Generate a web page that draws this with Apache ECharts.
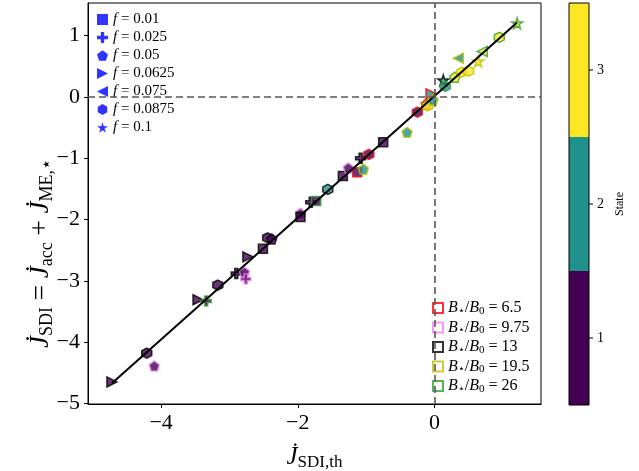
<!DOCTYPE html>
<html>
<head>
<meta charset="utf-8">
<script src="https://cdn.jsdelivr.net/npm/echarts@6/dist/echarts.min.js"></script>
<style>html,body{margin:0;padding:0;background:#fff}#c{width:639px;height:471px}</style>
</head>
<body>
<div id="c"></div>
<script>
// ---- data ----
const fLabels = ['0.01','0.025','0.05','0.0625','0.075','0.0875','0.1'];
const bLabels = ['6.5','9.75','13','19.5','26'];
const stateTicks = [1, 2, 3];
const xTicks = [-4, -2, 0];
const yTicks = [-5, -4, -3, -2, -1, 0, 1];
const xs = [-4.72,-4.21,-4.10,-3.46,-3.34,-3.17,-2.90,-2.78,-2.76,-2.73,-2.51,-2.44,-2.38,-1.96,-1.96,-1.81,-1.73,-1.56,-1.34,-1.26,-1.13,-1.04,-1.08,-0.96,-0.75,-0.40,-0.25,-0.12,-0.10,-0.05,-0.02,0.13,0.16,0.30,0.40,0.50,0.35,0.64,0.70,0.95,1.21];
const ys = [-4.65,-4.18,-4.39,-3.31,-3.33,-3.07,-2.88,-2.86,-2.97,-2.61,-2.48,-2.30,-2.32,-1.90,-1.96,-1.72,-1.70,-1.51,-1.29,-1.16,-1.23,-1.18,-1.00,-0.94,-0.74,-0.58,-0.25,-0.12,-0.15,0.05,-0.05,0.27,0.17,0.32,0.40,0.42,0.63,0.58,0.74,0.97,1.20];
const fIdx = [3,5,2,3,1,5,1,2,1,3,0,5,2,2,0,1,0,5,0,2,0,2,1,5,0,2,5,2,5,3,2,6,5,2,5,5,4,6,4,5,6];
const bIdx = [2,2,1,2,4,2,2,1,1,2,2,2,2,1,2,2,4,2,2,1,0,3,2,0,2,3,0,0,3,0,3,2,4,4,3,3,3,3,4,4,4];
const states = [1,1,1,1,1,1,1,1,1,1,1,1,1,1,1,1,1,2,1,1,1,2,1,1,1,2,1,2,3,2,2,2,2,3,3,3,2,3,3,3,3];
const fitX = [-4.72, 1.21];
const fitY = [-4.67, 1.21];

// ---- styles ----
const shapes = [
  'rect',
  'path://M35,0 H65 V35 H100 V65 H65 V100 H35 V65 H0 V35 H35 Z',
  'path://M50,0 L97.6,34.5 L79.4,90.5 L20.6,90.5 L2.4,34.5 Z',
  'path://M0,0 L100,50 L0,100 Z',
  'path://M100,0 L0,50 L100,100 Z',
  'path://M50,0 L93.3,25 L93.3,75 L50,100 L6.7,75 L6.7,25 Z',
  'path://M50,0 L61.2,34.5 L97.6,34.5 L68.2,55.9 L79.4,90.5 L50,69.1 L20.6,90.5 L31.8,55.9 L2.4,34.5 L38.8,34.5 Z'
];
const shapeSize = [9, 10, 10, 10, 10, 10, 11];
const edgeColors = ['#ff0000', '#ee82ee', '#000000', '#bfbf00', '#2ca02c'];
const stateColors = {1: '#440154', 2: '#21918c', 3: '#fde725'};
const serif = '"Liberation Serif", "DejaVu Serif", serif';

const pts = xs.map((x, i) => ({
  value: [x, ys[i]],
  symbol: shapes[fIdx[i]],
  symbolSize: shapeSize[fIdx[i]],
  itemStyle: {color: stateColors[states[i]], borderColor: edgeColors[bIdx[i]], borderWidth: 1.5}
}));

const fSeries = fLabels.map((l, i) => ({
  name: 'F' + i, type: 'scatter', data: [], symbol: shapes[i],
  itemStyle: {color: '#0000ff'}
}));
const bSeries = bLabels.map((l, i) => ({
  name: 'B' + i, type: 'scatter', data: [], symbol: 'rect',
  itemStyle: {color: '#ffffff', borderColor: edgeColors[i], borderWidth: 1.5}
}));

const richF = {
  i: {fontFamily: serif, fontStyle: 'italic', fontSize: 15, color: '#000'},
  t: {fontFamily: serif, fontSize: 15, color: '#000'}
};
const richB = {
  i: {fontFamily: serif, fontStyle: 'italic', fontSize: 16, color: '#000'},
  t: {fontFamily: serif, fontSize: 16, color: '#000'},
  s: {fontFamily: serif, fontSize: 11, color: '#000', padding: [6, 0, 0, 0]}
};

const chart = echarts.init(document.getElementById('c'), null, {renderer: 'canvas'});

const cbX = 569, cbW = 20, cbTop = 3, cbBot = 405;
const cbH = (cbBot - cbTop) / 3;
const graphics = [];
stateTicks.slice().reverse().forEach((s, k) => {
  graphics.push({type: 'rect', shape: {x: cbX, y: cbTop + k * cbH, width: cbW, height: cbH}, style: {fill: stateColors[s]}, silent: true});
});
graphics.push({type: 'rect', shape: {x: cbX, y: cbTop, width: cbW, height: cbBot - cbTop}, style: {fill: 'none', stroke: '#000', lineWidth: 1}});
stateTicks.forEach((s, idx) => {
  const y = cbBot - (idx + 0.5) * cbH;
  graphics.push({type: 'line', shape: {x1: cbX + cbW, y1: y, x2: cbX + cbW + 4, y2: y}, style: {stroke: '#000', lineWidth: 1}});
  graphics.push({type: 'text', x: cbX + cbW + 8, y: y, style: {text: String(s), font: '14px ' + serif, fill: '#000', verticalAlign: 'middle', align: 'left'}});
});
graphics.push({type: 'text', x: 620, y: (cbTop + cbBot) / 2, rotation: Math.PI / 2, style: {text: 'State', font: '12px ' + serif, fill: '#000', align: 'center', verticalAlign: 'middle'}});

const fmt = v => (v < 0 ? '\u2212' + Math.abs(v) : String(v));

chart.setOption({
  animation: false,
  backgroundColor: '#fff',
  grid: {left: 88, right: 98, top: 3, bottom: 67, show: true, borderColor: '#000', borderWidth: 1, outerBoundsMode: 'none', containLabel: false},
  xAxis: {
    type: 'value', min: -5.07, max: 1.56,
    splitLine: {show: false},
    axisLine: {onZero: false, lineStyle: {color: '#000'}},
    axisTick: {customValues: xTicks, length: 4, lineStyle: {color: '#000'}},
    axisLabel: {customValues: xTicks, fontFamily: serif, fontSize: 22, color: '#000', margin: 8, formatter: fmt},
    name: '{j|J\u0307}{sub|SDI,th}', nameLocation: 'middle', nameGap: 39, nameMoveOverlap: false,
    nameTextStyle: {rich: {
      j: {fontFamily: serif, fontStyle: 'italic', fontSize: 25, color: '#000'},
      sub: {fontFamily: serif, fontSize: 17, color: '#000', padding: [11, 0, 0, 0]}
    }}
  },
  yAxis: {
    type: 'value', min: -5.01, max: 1.53,
    splitLine: {show: false},
    axisLine: {onZero: false, lineStyle: {color: '#000'}},
    axisTick: {customValues: yTicks, length: 4, lineStyle: {color: '#000'}},
    axisLabel: {customValues: yTicks, fontFamily: serif, fontSize: 22, color: '#000', margin: 8, formatter: fmt},
    name: '{j|J\u0307}{sub|SDI}{t| = }{j|J\u0307}{sub|acc}{t| + }{j|J\u0307}{sub|ME,\u22c6}',
    nameLocation: 'middle', nameGap: 32, nameRotate: 90, nameMoveOverlap: false,
    nameTextStyle: {padding: [0, 100, 0, 0], rich: {
      j: {fontFamily: serif, fontStyle: 'italic', fontSize: 27, color: '#000'},
      t: {fontFamily: serif, fontSize: 27, color: '#000'},
      sub: {fontFamily: serif, fontSize: 18, color: '#000', padding: [12, 0, 0, 0]}
    }}
  },
  legend: [
    {
      data: fLabels.map((l, i) => ({name: 'F' + i, icon: shapes[i]})),
      orient: 'vertical', left: 97, top: 12, padding: 0,
      itemWidth: 11, itemHeight: 11, itemGap: 3, selectedMode: false,
      formatter: n => '{i|f}{t| = ' + fLabels[+n.slice(1)] + '}',
      textStyle: {rich: richF, lineHeight: 11}
    },
    {
      data: bLabels.map((l, i) => ({name: 'B' + i, icon: 'rect'})),
      orient: 'vertical', left: 432, top: 300, padding: 0,
      itemWidth: 10, itemHeight: 10, itemGap: 3, selectedMode: false,
      formatter: n => '{i|B}{s|\u22c6}{t|/}{i|B}{s|0}{t| = ' + bLabels[+n.slice(1)] + '}',
      textStyle: {rich: richB, lineHeight: 10}
    }
  ],
  graphic: graphics,
  series: [
    {
      type: 'line', data: [], silent: true,
      markLine: {
        silent: true, symbol: 'none', label: {show: false},
        lineStyle: {color: '#555', type: [7, 4], width: 1.6},
        data: [{xAxis: 0}, {yAxis: 0}]
      }
    },
    {type: 'scatter', data: pts, z: 3, silent: true},
    {
      type: 'line', data: fitX.map((x, i) => [x, fitY[i]]), symbol: 'none', z: 4, silent: true,
      lineStyle: {color: '#000', width: 2}
    }
  ].concat(fSeries, bSeries)
});
</script>
</body>
</html>
